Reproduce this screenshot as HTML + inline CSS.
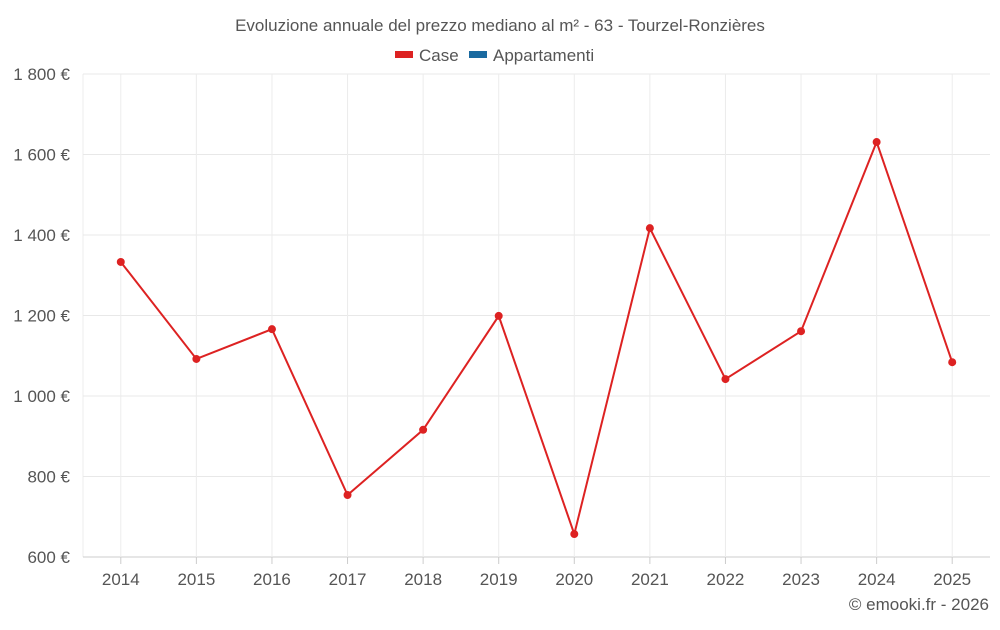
<!DOCTYPE html>
<html><head><meta charset="utf-8">
<style>
body{margin:0;background:#fff;font-family:"Liberation Sans",sans-serif;}
svg text{font-family:"Liberation Sans",sans-serif;fill:#555;}
</style></head>
<body>
<svg id="chart" width="1000" height="625" xmlns="http://www.w3.org/2000/svg">
<text x="500" y="31" text-anchor="middle" font-size="17">Evoluzione annuale del prezzo mediano al m² - 63 - Tourzel-Ronzières</text>
<g><rect x="395" y="51" width="18" height="7" fill="#dd2222"/><text x="419" y="61" font-size="17">Case</text></g>
<g><rect x="469" y="51" width="18" height="7" fill="#1a6aa0"/><text x="493" y="61" font-size="17">Appartamenti</text></g>
<g id="grid"></g><g id="yaxis"></g><g id="xaxis"></g><g id="series"></g>
<text x="989" y="610" text-anchor="end" font-size="17">© emooki.fr - 2026</text>
</svg>
<script>
const years=["2014","2015","2016","2017","2018","2019","2020","2021","2022","2023","2024","2025"];
const caseValues=[1333,1092,1166,754,916,1199,657,1417,1042,1161,1631,1084];
const yTicks=[600,800,1000,1200,1400,1600,1800];
const yTickLabels=["600 €","800 €","1 000 €","1 200 €","1 400 €","1 600 €","1 800 €"];
const NS="http://www.w3.org/2000/svg";
const L=83,R=990,T=74,B=557,ymin=600,ymax=1800;
const band=(R-L)/years.length;
function x(i){return L+band*(i+0.5);}
function y(v){return B-(v-ymin)/(ymax-ymin)*(B-T);}
function mk(tag,a,p){const e=document.createElementNS(NS,tag);for(const k in a)e.setAttribute(k,a[k]);p.appendChild(e);return e;}
const grid=document.getElementById('grid'),ya=document.getElementById('yaxis'),xa=document.getElementById('xaxis'),se=document.getElementById('series');
const lb=mk('line',{x1:L,x2:L,y1:T,y2:B,stroke:'#ececec'},grid);


yTicks.forEach((v,i)=>{
 const g=mk('line',{x1:L,x2:R,y1:y(v),y2:y(v),stroke:i==0?'#ccc':'#e8e8e8','stroke-width':1},grid);
 
 
 const t=mk('text',{x:70,y:y(v)+6,'text-anchor':'end','font-size':17},ya);
 t.textContent=yTickLabels[i];
 
 
});
years.forEach((yr,i)=>{
 const g=mk('line',{x1:x(i),x2:x(i),y1:T,y2:B,stroke:'#ececec','stroke-width':1},grid);
 
 
 const tk=mk('line',{x1:x(i),x2:x(i),y1:B,y2:B+7,stroke:'#ccc'},xa);
 
 
 const t=mk('text',{x:x(i),y:585,'text-anchor':'middle','font-size':17},xa);
 t.textContent=yr;
 
 
});
const pl=mk('polyline',{points:caseValues.map((v,i)=>x(i)+','+y(v)).join(' '),fill:'none',stroke:'#dd2222','stroke-width':2},se);


caseValues.forEach((v,i)=>{
 const c=mk('circle',{cx:x(i),cy:y(v),r:4,fill:'#dd2222'},se);
 
 
});
</script>
</body></html>
